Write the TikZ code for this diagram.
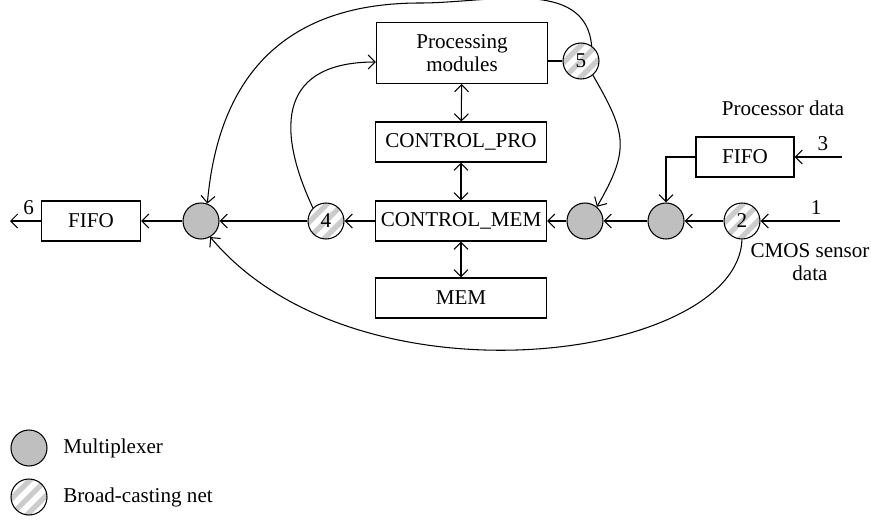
\documentclass[tikz,border=0pt]{standalone}
\usepackage{fontspec}
\setmainfont{Liberation Serif}
\usetikzlibrary{arrows.meta}

\tikzset{
  box/.style={draw, minimum width=3.42cm, minimum height=0.8cm, inner sep=2pt, align=center},
  mux/.style={circle, draw, fill=gray!50, minimum size=0.72cm, inner sep=0pt},
  bcast/.style={circle, draw, minimum size=0.72cm, inner sep=0pt, path picture={
      \foreach \k in {-2,...,2}
        \draw[gray!40, line width=3pt] ([xshift=\k*9pt]path picture bounding box.center) ++(-15pt,-15pt) -- ++(30pt,30pt);}},
  link/.style={-{Straight Barb[length=1.4mm,width=2.8mm]}},
  dlink/.style={{Straight Barb[length=1.4mm,width=2.8mm]}-{Straight Barb[length=1.4mm,width=2.8mm]}},
}

\begin{document}
\begin{tikzpicture}[x=0.2mm, y=-0.2mm, line width=0.6pt, font=\fontsize{12}{13}\selectfont]
  \useasboundingbox (0,0) rectangle (871,523);

  % main column
  \node[box, minimum height=1.22cm] (pm) at (462,53) {Processing\\modules};
  \node[box] (cpro) at (461,142) {CONTROL\_PRO};
  \node[box] (cmem) at (461,221) {CONTROL\_MEM};
  \node[box] (mem) at (461,298) {MEM};

  % broadcast nets and multiplexers
  \node[bcast] (b5) at (581,61) {5};
  \node[bcast] (b4) at (326,221) {4};
  \node[bcast] (b2) at (742,221) {2};
  \node[mux] (mxl) at (201,221) {};
  \node[mux] (mxa) at (585,221) {};
  \node[mux] (mxb) at (666,221) {};

  % fifos
  \node[box, minimum width=1.98cm] (fifol) at (91,221) {FIFO};
  \node[box, minimum width=1.96cm] (fifor) at (745,157) {FIFO};

  \node (pdata) at (783,108) {Processor data};
  \node[align=center] (cmos) at (810,262) {CMOS sensor\\data};

  \coordinate (out6) at (10,221);
  \coordinate (in1) at (840,221);
  \coordinate (in3) at (842,157);
  \coordinate (top) at (420,3);

  % straight links
  \draw[dlink] (pm) -- (cpro);
  \draw[dlink] (cpro) -- (cmem);
  \draw[dlink] (cmem) -- (mem);
  \draw (pm.east |- b5) -- (b5);
  \draw[link] (cmem) -- (b4);
  \draw[link] (b4) -- (mxl);
  \draw[link] (mxl) -- (fifol);
  \draw[link] (fifol) -- (out6) node[pos=0.4, above] {6};
  \draw[link] (mxa) -- (cmem);
  \draw[link] (mxb) -- (mxa);
  \draw[link] (b2) -- (mxb);
  \draw[link] (in1) -- (b2) node[pos=0.3, above] {1};
  \draw[link] (in3) -- (fifor) node[pos=0.4, above] {3};
  \draw[link] (fifor.west) -| (mxb.north);

  % curved links
  \draw[link] (b5.55) to[out=95,in=0] (top) to[out=180,in=85,looseness=1.15] (mxl.70);
  \draw[link] (b4.135) to[out=115,in=180,looseness=1.5] ([yshift=-1.8mm]pm.west);
  \draw[link] (b5.-50) to[out=-60,in=60,looseness=1.3] (mxa.50);
  \draw[link] (b2.south) to[out=-92,in=-50,out looseness=0.58,in looseness=1.1] (mxl.-60);

  % legend
  \node[mux] (legm) at (29,448) {};
  \node[anchor=west] (legmt) at (57,448) {Multiplexer};
  \node[bcast] (legb) at (29,497) {};
  \node[anchor=west] (legbt) at (57,497) {Broad-casting net};
\end{tikzpicture}
\end{document}
